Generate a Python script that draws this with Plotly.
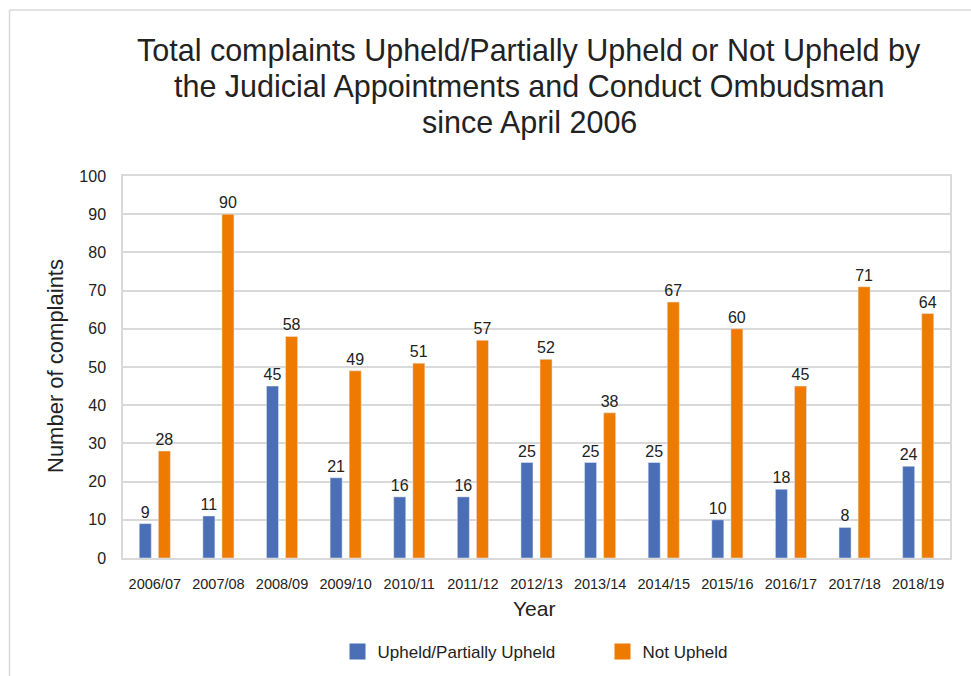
import plotly.graph_objects as go

years = ["2006/07", "2007/08", "2008/09", "2009/10", "2010/11", "2011/12", "2012/13",
         "2013/14", "2014/15", "2015/16", "2016/17", "2017/18", "2018/19"]
upheld = [9, 11, 45, 21, 16, 16, 25, 25, 25, 10, 18, 8, 24]
not_upheld = [28, 90, 58, 49, 51, 57, 52, 38, 67, 60, 45, 71, 64]
title_lines = ["Total complaints Upheld/Partially Upheld or Not Upheld by",
               "the Judicial Appointments and Conduct Ombudsman",
               "since April 2006"]

W, H = 971, 676
L, R, T, B = 123, 21, 176, 118
PW, PH = W - L - R, H - T - B

def px_x(p):
    return (p - L) / PW

def px_y(p):
    return (H - B - p) / PH

BLUE = "#4A6FB6"
ORANGE = "#EE7A00"
TXT = "#222222"
GRID = "#D9D9D9"
FONT = "Liberation Sans, Arial, Helvetica, sans-serif"

fig = go.Figure()
for name, vals, col in [("Upheld/Partially Upheld", upheld, BLUE), ("Not Upheld", not_upheld, ORANGE)]:
    fig.add_trace(go.Bar(name=name, x=years, y=vals, marker_color=col, showlegend=False,
                         legendgroup=name,
                         text=vals, textposition="outside", cliponaxis=False, constraintext="none",
                         textfont=dict(size=16, color=TXT, family=FONT)))
for name, col in [("Upheld/Partially Upheld", BLUE), ("Not Upheld", ORANGE)]:
    fig.add_trace(go.Scatter(name=name, x=[None], y=[None], mode="markers", legendgroup=name,
                             marker=dict(symbol="square", size=18, color=col), hoverinfo="skip"))

annotations = []
for i, line in enumerate(title_lines):
    annotations.append(dict(text=line, xref="paper", yref="paper", x=px_x(529), y=px_y(50 + 36 * i),
                            xanchor="center", yanchor="middle", showarrow=False,
                            font=dict(size=30.5, color=TXT)))
annotations += [
    dict(text="Number of complaints", xref="paper", yref="paper", x=px_x(55), y=px_y(366),
         textangle=-90, xanchor="center", yanchor="middle", showarrow=False,
         font=dict(size=22, color=TXT)),
    dict(text="Year", xref="paper", yref="paper", x=px_x(534), y=px_y(608),
         xanchor="center", yanchor="middle", showarrow=False, font=dict(size=21, color=TXT)),
]

fig.update_layout(
    width=W, height=H,
    margin=dict(l=L, r=R, t=T, b=B, autoexpand=False),
    paper_bgcolor="white", plot_bgcolor="white",
    font=dict(family=FONT, color=TXT),
    barmode="group", bargap=0.40, bargroupgap=0.37,
    showlegend=True,
    legend=dict(orientation="h", x=0.5 + 66 / PW, xanchor="center", y=px_y(652), yanchor="middle",
                font=dict(size=17, color=TXT), entrywidth=220, entrywidthmode="pixels"),
    xaxis=dict(showgrid=False, showline=True, linecolor=GRID, linewidth=1.5, mirror=True,
               ticks="outside", ticklen=12, tickcolor="rgba(0,0,0,0)",
               tickfont=dict(size=14.5, color=TXT)),
    yaxis=dict(range=[0, 100], dtick=10, showgrid=True, gridcolor=GRID, gridwidth=1.5,
               showline=True, linecolor=GRID, linewidth=1.5, mirror=True, zeroline=False,
               ticks="outside", ticklen=12, tickcolor="rgba(0,0,0,0)",
               tickfont=dict(size=16, color=TXT)),
    annotations=annotations,
    shapes=[
        dict(type="line", xref="paper", yref="paper", x0=px_x(9.5), x1=px_x(9.5), y0=px_y(10), y1=px_y(700),
             line=dict(color=GRID, width=1.5)),
        dict(type="line", xref="paper", yref="paper", x0=px_x(9.5), x1=px_x(1000), y0=px_y(10), y1=px_y(10),
             line=dict(color=GRID, width=1.5)),
    ],
)

fig.write_html("out.html")
